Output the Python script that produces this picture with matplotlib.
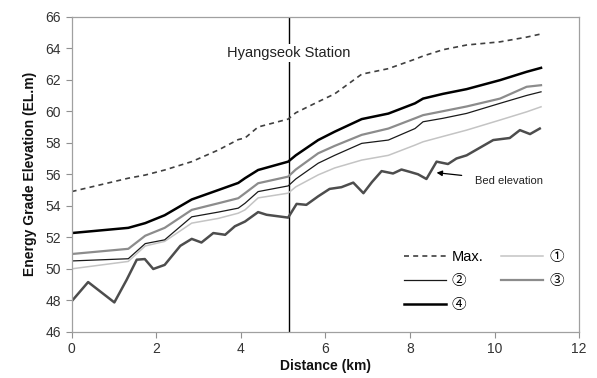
import matplotlib
matplotlib.use("Agg")
import matplotlib.pyplot as plt

plt.rcParams['font.family'] = ['Liberation Sans', 'Noto Sans CJK KR', 'DejaVu Sans']

# ---- data ----
dist = [0, 1.34, 1.74, 2.2, 2.84, 3.47, 3.94, 4.1, 4.41, 5.12, 5.3, 5.83,
        6.22, 6.86, 7.49, 8.12, 8.31, 8.78, 9.34, 10.13, 10.76, 11.1]
egl_max = [54.9, 55.75, 55.95, 56.27, 56.8, 57.54, 58.2, 58.3, 59.0, 59.5, 59.9, 60.6,
           61.1, 62.35, 62.7, 63.3, 63.5, 63.9, 64.2, 64.4, 64.7, 64.9]
egl_1 = [50.0, 50.47, 51.45, 51.74, 52.9, 53.2, 53.53, 53.74, 54.5, 54.8, 55.2, 55.96,
         56.4, 56.9, 57.2, 57.85, 58.06, 58.4, 58.8, 59.44, 59.96, 60.28]
egl_2 = [50.5, 50.64, 51.6, 51.84, 53.3, 53.6, 53.85, 54.16, 54.9, 55.26, 55.7, 56.7,
         57.2, 57.96, 58.17, 58.9, 59.33, 59.55, 59.86, 60.5, 61.0, 61.23]
egl_3 = [50.94, 51.27, 52.1, 52.6, 53.74, 54.16, 54.48, 54.8, 55.43, 55.85, 56.3, 57.33,
         57.8, 58.5, 58.9, 59.55, 59.75, 60.0, 60.3, 60.8, 61.55, 61.65]
egl_4 = [52.27, 52.6, 52.9, 53.4, 54.4, 55.0, 55.45, 55.75, 56.27, 56.8, 57.2, 58.17,
         58.7, 59.5, 59.85, 60.5, 60.8, 61.1, 61.4, 61.97, 62.5, 62.75]

bed_dist = [0, 0.39, 1.01, 1.3, 1.54, 1.73, 1.93, 2.2, 2.57, 2.84, 3.07, 3.35, 3.63,
            3.86, 4.1, 4.41, 4.61, 5.12, 5.32, 5.55, 5.83, 6.1, 6.38, 6.66, 6.9, 7.1,
            7.33, 7.6, 7.8, 8.0, 8.19, 8.39, 8.63, 8.9, 9.1, 9.34, 9.97, 10.36, 10.6,
            10.84, 11.07]
bed_elev = [47.94, 49.16, 47.87, 49.3, 50.58, 50.62, 49.99, 50.25, 51.46, 51.9, 51.67,
            52.27, 52.16, 52.7, 53.0, 53.6, 53.43, 53.25, 54.12, 54.06, 54.6, 55.07,
            55.18, 55.47, 54.8, 55.5, 56.2, 56.05, 56.3, 56.15, 56.0, 55.7, 56.8, 56.65,
            57.0, 57.2, 58.17, 58.3, 58.8, 58.55, 58.9]

station_km = 5.14
station_label = "Hyangseok Station"
xticks = [0, 2, 4, 6, 8, 10, 12]
yticks = [46, 48, 50, 52, 54, 56, 58, 60, 62, 64, 66]

# ---- figure ----
fig = plt.figure(figsize=(5.97, 3.78), dpi=100)
ax = fig.add_axes([0.120, 0.122, 0.850, 0.834])

ax.plot(dist, egl_max, color='#404040', lw=1.2, ls=(0, (3, 2.5)), label='Max.')
ax.plot(dist, egl_1, color='#c4c4c4', lw=1.1, label='①')
ax.plot(dist, egl_2, color='#1a1a1a', lw=0.9, label='②')
ax.plot(dist, egl_3, color='#8c8c8c', lw=1.6, label='③')
ax.plot(dist, egl_4, color='#000000', lw=1.8, label='④')
ax.plot(bed_dist, bed_elev, color='#4d4d4d', lw=1.8)

ax.axvline(station_km, color='black', lw=1.0, zorder=1)
ax.text(station_km, 63.7, station_label, ha='center', va='center', fontsize=10.5,
        color='#222222', bbox=dict(facecolor='white', edgecolor='none', pad=1.5))

ax.annotate('Bed elevation', xy=(8.63, 56.1), xytext=(9.55, 55.6),
            fontsize=8, color='#222222', ha='left', va='center',
            arrowprops=dict(arrowstyle='-|>', color='black', lw=0.9,
                            shrinkA=8, shrinkB=0, mutation_scale=8))

ax.set_xlim(0, 12)
ax.set_ylim(46, 66)
ax.set_xticks(xticks)
ax.set_yticks(yticks)
ax.tick_params(direction='out', length=4, width=0.8, color='#909090',
               labelsize=10, labelcolor='#333333')
for s in ax.spines.values():
    s.set_color('#a0a0a0')
    s.set_linewidth(0.9)

ax.set_xlabel('Distance (km)', fontsize=10, fontweight='bold', color='#111111', labelpad=2)
ax.set_ylabel('Energy Grade Elevation (EL.m)', fontsize=10, fontweight='bold',
              color='#111111', labelpad=6)

h, l = ax.get_legend_handles_labels()
order = [0, 2, 4, 1, 3]
leg = ax.legend([h[i] for i in order], [l[i] for i in order], ncol=2,
                loc='upper left', bbox_to_anchor=(0.643, 0.278), frameon=False,
                fontsize=10.5, handlelength=2.9, handletextpad=0.4,
                columnspacing=1.2, labelspacing=0.7, borderaxespad=0)

fig.savefig('out.png', dpi=100)
